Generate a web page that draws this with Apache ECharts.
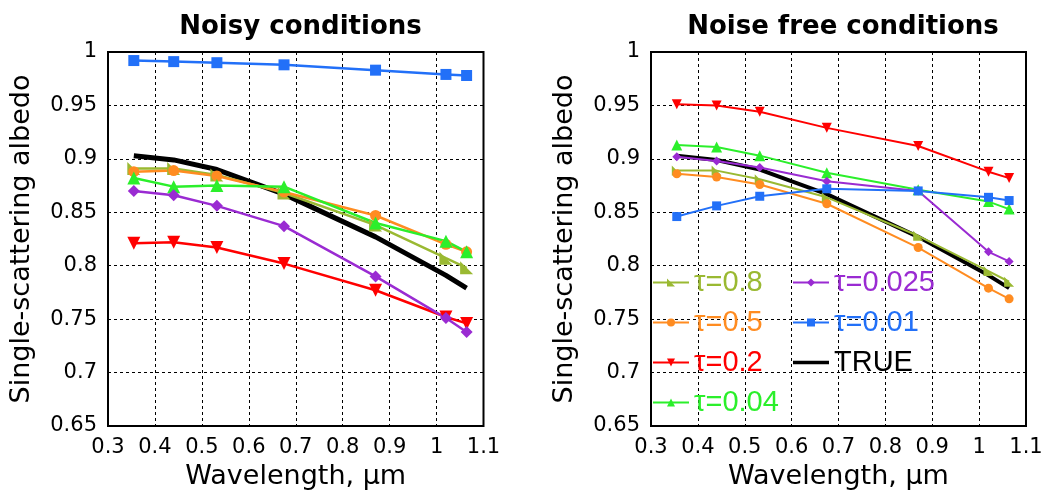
<!DOCTYPE html>
<html>
<head>
<meta charset="utf-8">
<script src="https://cdn.jsdelivr.net/npm/echarts@6/dist/echarts.min.js"></script>
<style>html,body{margin:0;padding:0;background:#fff}#c{width:1051px;height:497px}</style>
</head>
<body>
<div id="c"></div>
<script>
const wavelengths = [0.355, 0.44, 0.532, 0.675, 0.87, 1.02, 1.064];
const xTicks = ['0.3','0.4','0.5','0.6','0.7','0.8','0.9','1','1.1'];
const yTicks = ['0.65','0.7','0.75','0.8','0.85','0.9','0.95','1'];

const trueVals = [0.903, 0.899, 0.890, 0.867, 0.827, 0.791, 0.779];

// Noisy conditions
const noisy_t08  = [0.891, 0.891, 0.885, 0.868, 0.838, 0.807, 0.798];
const noisy_t05  = [0.888, 0.889, 0.884, 0.869, 0.847, 0.820, 0.813];
const noisy_t02  = [0.821, 0.822, 0.817, 0.802, 0.777, 0.752, 0.746];
const noisy_t004 = [0.882, 0.874, 0.875, 0.874, 0.840, 0.823, 0.813];
const noisy_t0025= [0.870, 0.866, 0.856, 0.837, 0.790, 0.751, 0.738];
const noisy_t001 = [0.992, 0.991, 0.990, 0.988, 0.983, 0.979, 0.978];

// Noise free conditions
const free_t08  = [0.889, 0.889, 0.881, 0.864, 0.828, 0.795, 0.785];
const free_t05  = [0.886, 0.883, 0.876, 0.858, 0.817, 0.779, 0.769];
const free_t02  = [0.951, 0.950, 0.944, 0.929, 0.912, 0.888, 0.882];
const free_t004 = [0.913, 0.911, 0.903, 0.887, 0.871, 0.860, 0.853];
const free_t0025= [0.902, 0.898, 0.892, 0.879, 0.870, 0.813, 0.804];
const free_t001 = [0.846, 0.856, 0.865, 0.872, 0.870, 0.864, 0.861];

const names = ['τ=0.8','τ=0.5','τ=0.2','τ=0.04','τ=0.025','τ=0.01','TRUE'];
const colors = ['#9AB932','#FF8C21','#FF0000','#2BEF2B','#9A2BD2','#2270F8','#000000'];
const symbols = ['path://M0,0 L0,10 L10,10 Z','circle','path://M0,0 L10,0 L5,9 Z','triangle','diamond','rect','none'];

const FONT = '"DejaVu Sans", sans-serif';
const LFONT = '"Liberation Sans", Arial, sans-serif';

function pair(arr){ return wavelengths.map((w,i)=>[w, arr[i]]); }

function makeSeries(gi, sets, big){
  const out = [];
  out.push({
    name:'TRUE', type:'line', xAxisIndex:gi, yAxisIndex:gi, data:pair(trueVals),
    showSymbol:false, symbol:'none', lineStyle:{color:'#000', width: big?5:4}, itemStyle:{color:'#000'},
    z:1, animation:false
  });
  const sizes = big ? [13,11,13,13,12,11] : [10,9,10,11,9,9];
  sets.forEach((arr,i)=>{
    out.push({
      name:names[i], type:'line', xAxisIndex:gi, yAxisIndex:gi, data:pair(arr),
      symbol:symbols[i], symbolSize:sizes[i], showAllSymbol:true,
      lineStyle:{color:colors[i], width: big?2.5:2}, itemStyle:{color:colors[i]},
      z:3, animation:false
    });
  });
  return out;
}

function xAxisCfg(gi){
  return {
    type:'value', gridIndex:gi, min:0.3, max:1.1, interval:0.1,
    name:'Wavelength, μm', nameLocation:'middle', nameGap:37,
    nameTextStyle:{fontFamily:FONT, fontSize:27, color:'#000'},
    axisLine:{show:false}, axisTick:{show:false},
    axisLabel:{fontFamily:FONT, fontSize:21, color:'#000', margin:11,
      formatter:(v)=>xTicks[Math.round((v-0.3)*10)]},
    splitLine:{show:true, lineStyle:{color:'#000', width:1, type:[3,3]}}
  };
}
function yAxisCfg(gi){
  return {
    type:'value', gridIndex:gi, min:0.65, max:1, interval:0.05,
    name:'Single-scattering albedo', nameLocation:'middle', nameGap:73,
    nameTextStyle:{fontFamily:FONT, fontSize:27, color:'#000'},
    axisLine:{show:false}, axisTick:{show:false},
    axisLabel:{fontFamily:FONT, fontSize:21, color:'#000', margin:11,
      formatter:(v)=>yTicks[Math.round((v-0.65)*20)]},
    splitLine:{show:true, lineStyle:{color:'#000', width:1, type:[3,3]}}
  };
}

const lineIcon = 'path://M0,0 L36,0 L36,3.5 L0,3.5 Z';

const chart = echarts.init(document.getElementById('c'), null, {renderer:'canvas'});
chart.setOption({
  backgroundColor:'#fff',
  animation:false,
  title:[
    {text:'Noisy conditions', left:295.5, textAlign:'center', top:9,
     textStyle:{fontFamily:FONT, fontSize:26, fontWeight:'bold', color:'#000'}},
    {text:'Noise free conditions', left:838, textAlign:'center', top:9,
     textStyle:{fontFamily:FONT, fontSize:26, fontWeight:'bold', color:'#000'}}
  ],
  grid:[
    {left:108, top:52, width:375.5, height:374, show:true, borderColor:'#000', borderWidth:2, backgroundColor:'transparent'},
    {left:651, top:52, width:375, height:374, show:true, borderColor:'#000', borderWidth:2, backgroundColor:'transparent'}
  ],
  xAxis:[xAxisCfg(0), xAxisCfg(1)],
  yAxis:[yAxisCfg(0), yAxisCfg(1)],
  legend:[
    {left:652, top:268, orient:'vertical', itemGap:11, itemWidth:36, itemHeight:10,
     selectedMode:false, padding:0,
     textStyle:{fontFamily:LFONT, fontSize:29},
     data:[0,1,2,3].map(i=>({name:names[i], textStyle:{color:colors[i]}}))},
    {left:792, top:268, orient:'vertical', itemGap:11, itemWidth:36, itemHeight:10,
     selectedMode:false, padding:0,
     textStyle:{fontFamily:LFONT, fontSize:29},
     data:[4,5].map(i=>({name:names[i], textStyle:{color:colors[i]}}))
       .concat([{name:'TRUE', icon:lineIcon, itemStyle:{color:'#000'}, textStyle:{color:'#000'}}])}
  ],
  series:[
    ...makeSeries(0,[noisy_t08,noisy_t05,noisy_t02,noisy_t004,noisy_t0025,noisy_t001], true),
    ...makeSeries(1,[free_t08,free_t05,free_t02,free_t004,free_t0025,free_t001], false)
  ]
});
</script>
</body>
</html>
